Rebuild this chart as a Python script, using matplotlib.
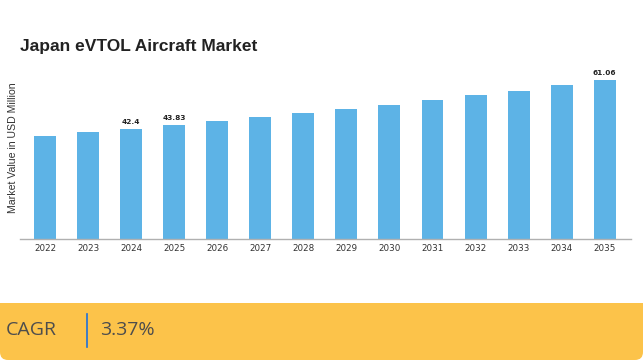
import numpy as np
import matplotlib.pyplot as plt
from matplotlib.patches import FancyBboxPatch, Rectangle

# Data
years = ["2022", "2023", "2024", "2025", "2026", "2027", "2028",
         "2029", "2030", "2031", "2032", "2033", "2034", "2035"]
values = [39.7, 41.0, 42.4, 43.83, 45.3, 46.8, 48.4,
          50.0, 51.7, 53.5, 55.3, 57.1, 59.1, 61.06]
labelled = {"2024": "42.4", "2025": "43.83", "2035": "61.06"}
cagr_text = "3.37%"

W, H = 643, 360
fig = plt.figure(figsize=(W / 100, H / 100), dpi=100)

# background layer in pixel coordinates
bg = fig.add_axes([0, 0, 1, 1], zorder=0)
bg.set_xlim(0, W)
bg.set_ylim(0, H)
bg.axis("off")
band_color = "#FCC34A"
bg.add_patch(FancyBboxPatch((0, 0), W, 57, boxstyle="round,pad=0,rounding_size=8",
                            fc=band_color, ec="none"))
bg.add_patch(Rectangle((0, 20), W, 37, fc=band_color, ec="none"))
bg.text(6, 30, "CAGR", fontsize=14, family="Open Sans", color="#4d4d4d",
        va="center", ha="left")
bg.plot([87, 87], [13, 46], color="#1E6FD9", lw=1.2)
bg.text(100, 30, cagr_text, fontsize=14, family="Open Sans", color="#4d4d4d",
        va="center", ha="left")

# bar chart
ax = fig.add_axes([20 / W, 121 / H, 611 / W, 169 / H], zorder=1)
ax.patch.set_alpha(0)
x = np.arange(len(years))
ax.bar(x, values, width=0.51, color="#5DB3E6")
ax.set_xlim(-0.58, 13.61)
ax.set_ylim(0, 65)
for i, (yr, v) in enumerate(zip(years, values)):
    if yr in labelled:
        ax.text(i, v + 1.6, labelled[yr], ha="center", va="bottom",
                fontsize=5.3, fontweight="bold", color="#222222")

ax.set_xticks(x)
ax.set_xticklabels(years, fontsize=6.3, color="#333333")
ax.tick_params(axis="x", length=0, pad=3.5)
ax.set_yticks([])
for s in ["top", "right", "left"]:
    ax.spines[s].set_visible(False)
ax.spines["bottom"].set_color("#b0b0b0")
ax.spines["bottom"].set_linewidth(1)

fig.text(13 / W, 1 - 148 / H, "Market Value in USD Million", rotation=90,
         fontsize=7.6, family="Liberation Sans", color="#333333",
         ha="center", va="center")
fig.text(20 / W, 1 - 46 / H, "Japan eVTOL Aircraft Market", fontsize=12.5,
         fontweight="bold", family="Liberation Sans", color="#222222",
         ha="left", va="center")

fig.savefig("out.png", dpi=100, facecolor="white")
